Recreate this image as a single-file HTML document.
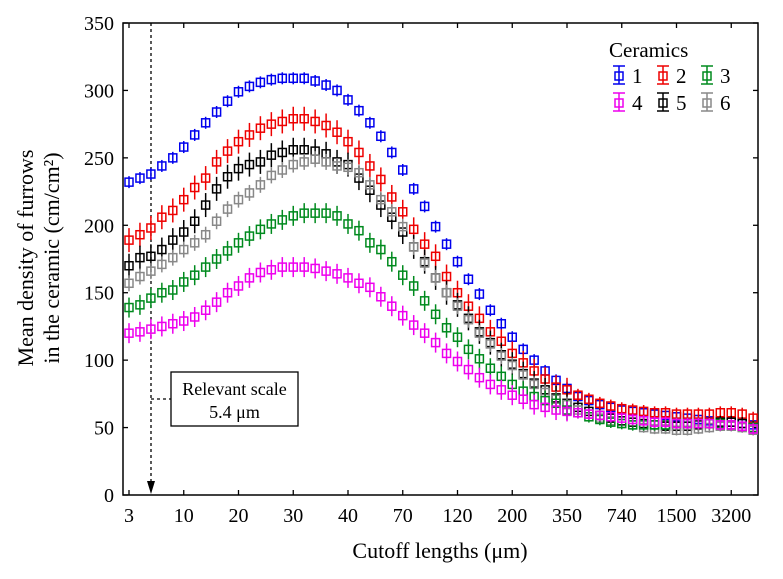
<!DOCTYPE html>
<html><head><meta charset="utf-8"><style>
html,body{margin:0;padding:0;background:#fff}
svg{display:block;font-family:"Liberation Serif",serif}
</style></head><body>
<svg id="chart" width="783" height="579"></svg>
<script>
const xTickLabels=["3","10","20","30","40","70","120","200","350","740","1500","3200"];
const yTicks=[0,50,100,150,200,250,300,350];
const s1=[232,235,238,244,250,258,267,276,284,292,299,303,306,308,309,309,309,307,304,300,293,285,276,266,254,241,227,214,199,186,173,160,149,137,127,117,108,100,92,85,79,73,70,67,65,63,62,61,60,59,58,57,56,55,54,54,53,52];
const s2=[189,193,198,206,211,219,228,235,247,255,262,267,272,275,277,279,279,277,274,269,262,254,244,234,221,210,197,186,177,162,150,140,131,121,114,105,98,92,86,80,78,74,71,68,66,64,63,62,61,61,60,60,60,60,61,61,60,57];
const s3=[139,141,146,150,152,158,163,169,175,181,187,192,197,201,204,207,209,209,209,207,201,196,187,182,173,163,155,144,134,124,117,108,101,94,88,82,77,73,70,68,63,61,58,56,54,53,52,52,52,52,53,53,53,53,53,52,51,50];
const s4=[120,121,123,125,127,129,132,137,143,150,155,161,165,167,169,169,169,168,166,164,161,157,154,147,140,133,126,120,113,105,99,93,87,82,78,74,71,67,65,63,62,61,60,59,58,57,56,55,54,54,53,53,53,53,52,52,51,49];
const s5=[170,176,177,182,189,195,203,215,227,236,242,245,247,252,254,256,256,255,253,247,245,235,226,215,206,195,184,173,161,150,141,131,121,113,104,97,90,83,78,72,68,65,62,59,57,55,54,53,52,51,51,51,52,53,54,54,53,50];
const s6=[157,162,166,171,176,182,187,193,203,212,219,224,230,237,241,245,247,249,247,244,243,239,230,219,210,199,184,172,161,150,140,130,120,112,103,96,89,82,76,71,67,63,60,57,55,53,52,50,49,49,48,48,49,50,51,51,50,48];
const seriesNames=["1","2","3","4","5","6"];
const seriesData=[s1,s2,s3,s4,s5,s6];
const seriesColors=["#0000ee","#ee0000","#008a1e","#ee00ee","#000000","#888888"];
const seriesErr=[2,8,6,6,8,4];

const NS="http://www.w3.org/2000/svg";
const svg=document.getElementById('chart');
const L=123,R=758,T=23,B=495,X0=129,DX=10.95;
const xs=i=>X0+i*DX;
const ys=v=>B-(v/350)*(B-T);
function mk(tag,at,parent){const e=document.createElementNS(NS,tag);for(const k in at)e.setAttribute(k,at[k]);(parent||svg).appendChild(e);return e;}

const fr=mk('rect',{x:L,y:T,width:R-L,height:B-T,fill:'none',stroke:'#000','stroke-width':1.5});



yTicks.forEach(v=>{
  const y=ys(v);
  const t=mk('line',{x1:L,x2:L+5,y1:y,y2:y,stroke:'#000','stroke-width':1.3});
  
  
  const t2=mk('line',{x1:R,x2:R-5,y1:y,y2:y,stroke:'#000','stroke-width':1.3});
  
  
  const lb=mk('text',{x:L-9,y:y+7,'text-anchor':'end','font-size':20});
  lb.textContent=v;
  
  
});
xTickLabels.forEach((s,k)=>{
  const x=xs(k*5);
  const t=mk('line',{x1:x,x2:x,y1:B,y2:B-5,stroke:'#000','stroke-width':1.3});
  
  
  const t2=mk('line',{x1:x,x2:x,y1:T,y2:T+5,stroke:'#000','stroke-width':1.3});
  
  
  const lb=mk('text',{x:x,y:B+27,'text-anchor':'middle','font-size':20});
  lb.textContent=s;
  
  
});

const ax=151;
const dl=mk('line',{x1:ax,x2:ax,y1:T,y2:482,stroke:'#000','stroke-width':1.3,'stroke-dasharray':'3,3'});


const ah=mk('polygon',{points:`${ax-4},481 ${ax+4},481 ${ax},494`,fill:'#000'});


const hl=mk('line',{x1:ax,x2:171,y1:399,y2:399,stroke:'#000','stroke-width':1.2,'stroke-dasharray':'3,3'});


const bx=mk('rect',{x:171,y:372,width:127,height:54,fill:'#fff',stroke:'#000','stroke-width':1.3});


const a1=mk('text',{x:234.5,y:395,'text-anchor':'middle','font-size':18});
a1.textContent='Relevant scale';


const a2=mk('text',{x:234.5,y:418,'text-anchor':'middle','font-size':18});
a2.textContent='5.4 μm';



function marker(g,x,y,c,e,name){
  const l=mk('line',{x1:x,x2:x,y1:y-4-e,y2:y+4+e,stroke:c,'stroke-width':1.5},g);
  
  
  const r=mk('rect',{x:x-4,y:y-4,width:8,height:8,fill:'none',stroke:c,'stroke-width':1.5},g);
  
  
}
const order=[0,1,4,5,2,3];
order.forEach(si=>{
  const g=mk('g',{});
  
  
  seriesData[si].forEach((v,i)=>marker(g,xs(i),ys(v),seriesColors[si],seriesErr[si]*(i>40?0.3:1),'point-ceramic-'+seriesNames[si]));
});

const lg=mk('g',{});


const lt=mk('text',{x:609,y:57,'font-size':21},lg);
lt.textContent='Ceramics';


seriesNames.forEach((n,i)=>{
  const col=i%3,row=Math.floor(i/3);
  const x=619+col*44,y=75+row*27;
  const c=seriesColors[i];
  const ge=mk('g',{},lg);
  
  
  mk('line',{x1:x-6,x2:x+6,y1:y-9,y2:y-9,stroke:c,'stroke-width':1.5},ge);
  mk('line',{x1:x-6,x2:x+6,y1:y+9,y2:y+9,stroke:c,'stroke-width':1.5},ge);
  mk('line',{x1:x,x2:x,y1:y-9,y2:y+9,stroke:c,'stroke-width':1.5},ge);
  mk('rect',{x:x-4,y:y-3,width:8,height:8,fill:'none',stroke:c,'stroke-width':1.5},ge);
  const t=mk('text',{x:x+13,y:y+8,'font-size':21},ge);
  t.textContent=n;
});

const xt=mk('text',{x:440,y:558,'text-anchor':'middle','font-size':22});
xt.textContent='Cutoff lengths (μm)';


const yt=mk('text',{transform:'translate(33,258) rotate(-90)','text-anchor':'middle','font-size':22});
yt.textContent='Mean density of furrows';


const yt2=mk('text',{transform:'translate(59,258) rotate(-90)','text-anchor':'middle','font-size':22});
yt2.textContent='in the ceramic (cm/cm²)';


</script>
</body></html>
